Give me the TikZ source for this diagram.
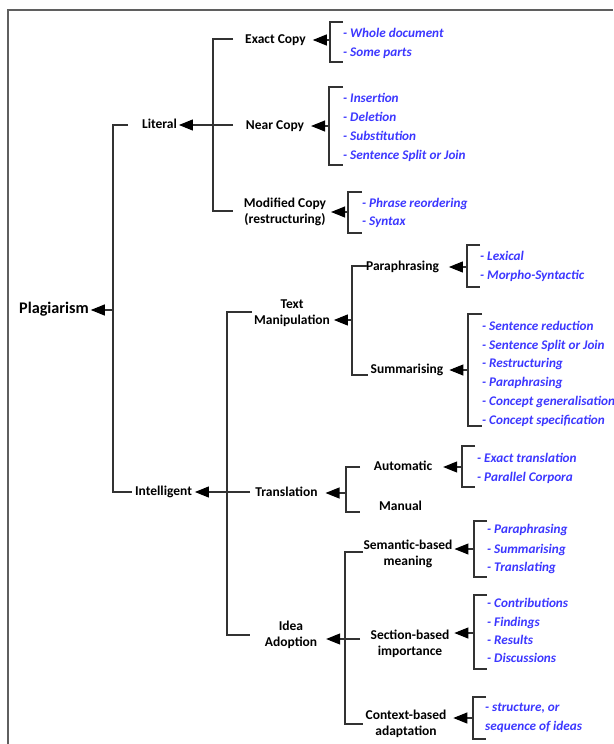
\documentclass[tikz,border=0pt]{standalone}
\usepackage{fontspec}
\setmainfont{Carlito}
\usetikzlibrary{arrows.meta}
\definecolor{itemblue}{RGB}{60,55,255}
\definecolor{linegray}{RGB}{50,50,50}
\definecolor{framegray}{RGB}{95,95,95}
\tikzset{
  lbl/.style={font=\bfseries\fontsize{13.5}{16}\selectfont, inner ysep=0pt, outer sep=0pt, text height=9.5pt, text depth=3pt},
  lbltwo/.style={font=\bfseries\fontsize{13.5}{16}\selectfont, inner ysep=0pt, outer sep=0pt, align=center},
  plg/.style={font=\bfseries\fontsize{16.2}{19}\selectfont, inner ysep=0pt, outer sep=0pt, text height=10pt, text depth=3pt},
  item/.style={font=\bfseries\itshape\fontsize{13.2}{15}\selectfont, text=itemblue, anchor=west, inner sep=0pt, text height=9pt, text depth=3pt},
  ln/.style={draw=linegray, line width=1.1pt},
  arr/.style={ln, -{Triangle[length=14pt,width=11pt,fill=black,color=black]}},
}
\begin{document}
\begin{tikzpicture}[x=1pt,y=-1pt]
\useasboundingbox (0,0) rectangle (613,744);
\draw[framegray, line width=1.6pt] (8,744) -- (8,10) -- (613,10);

% ---------- labels ----------
\node[plg, inner xsep=2pt] (plag) at (54,310) {Plagiarism};
\node[lbl, inner xsep=2pt] (lit) at (159.5,125) {Literal};
\node[lbl, inner xsep=3pt] (intel) at (163.5,492) {Intelligent};
\node[lbl, inner xsep=7pt] (ec) at (275.5,40) {Exact Copy};
\node[lbl, inner xsep=7pt] (nc) at (275,126) {Near Copy};
\node[lbltwo, inner xsep=5pt] (mc) at (285,212) {Modified Copy\\(restructuring)};
\node[lbltwo, inner xsep=4pt] (tm) at (292,313) {Text\\Manipulation};
\node[lbl, inner xsep=10pt] (para) at (402.5,267) {Paraphrasing};
\node[lbl, inner xsep=6pt] (summ) at (407,370) {Summarising};
\node[lbl, inner xsep=8pt] (trans) at (286.5,493) {Translation};
\node[lbl, inner xsep=11pt] (auto) at (403,467) {Automatic};
\node[lbl, inner xsep=2pt] (man) at (400.5,507) {Manual};
\node[lbltwo, inner xsep=9pt] (idea) at (291,635) {Idea\\Adoption};
\node[lbltwo, inner xsep=2pt] (sem) at (408,554) {Semantic-based\\meaning};
\node[lbltwo, inner xsep=5pt] (sec) at (410,643.5) {Section-based\\importance};
\node[lbltwo, inner xsep=7pt] (ctx) at (406,724) {Context-based\\adaptation};

% ---------- items ----------
\node[item] (ec1) at (343,34) {- Whole document};
\node[item] (ec2) at (343,53) {- Some parts};
\node[item] (nc1) at (343,99) {- Insertion};
\node[item] (nc2) at (343,118) {- Deletion};
\node[item] (nc3) at (343,137) {- Substitution};
\node[item] (nc4) at (343,156) {- Sentence Split or Join};
\node[item] (mc1) at (362,204) {- Phrase reordering};
\node[item] (mc2) at (362,222) {- Syntax};
\node[item] (pa1) at (480,257) {- Lexical};
\node[item] (pa2) at (480,276) {- Morpho-Syntactic};
\node[item] (su1) at (482,327) {- Sentence reduction};
\node[item] (su2) at (482,346) {- Sentence Split or Join};
\node[item] (su3) at (482,364) {- Restructuring};
\node[item] (su4) at (482,383) {- Paraphrasing};
\node[item] (su5) at (482,402) {- Concept generalisation};
\node[item] (su6) at (482,421) {- Concept specification};
\node[item] (au1) at (477,459) {- Exact translation};
\node[item] (au2) at (477,478) {- Parallel Corpora};
\node[item] (se1) at (487,530) {- Paraphrasing};
\node[item] (se2) at (487,550) {- Summarising};
\node[item] (se3) at (487,568) {- Translating};
\node[item] (sc1) at (487,604) {- Contributions};
\node[item] (sc2) at (487,623) {- Findings};
\node[item] (sc3) at (487,641) {- Results};
\node[item] (sc4) at (487,659) {- Discussions};
\node[item] (cx1) at (485,708) {- structure, or};
\node[item] (cx2) at (485,727) {sequence of ideas};

% ---------- coordinates ----------
\coordinate (plagB) at (113,310);
\coordinate (litB) at (233,125);
\coordinate (intelB) at (250,492);
\coordinate (ecB) at (330,40);
\coordinate (ncB) at (329,126);
\coordinate (mcB) at (348,212);
\coordinate (tmB) at (352,320);
\coordinate (paB) at (467,267);
\coordinate (suB) at (468,370);
\coordinate (trB) at (346,493);
\coordinate (auB) at (462,467);
\coordinate (idB) at (360,639);
\coordinate (seB) at (474,549);
\coordinate (scB) at (474,633);
\coordinate (cxB) at (473,718);

% ---------- trunks ----------
\draw[ln] (128,125) -- (113,125) -- (113,492) -- (intel.west |- 0,492);
\draw[ln] (233,39) -- (213,39) -- (213,211) -- (233,211);
\draw[ln] (252,312) -- (227,312) -- (227,635) -- (250,635);
\draw[ln] (367,266) -- (352,266) -- (352,375) -- (368,375);
\draw[ln] (360,467) -- (346,467) -- (346,512) -- (360,512);
\draw[ln] (363,552) -- (345,552) -- (345,724) -- (363,724);

% ---------- brackets ----------
\draw[ln] (343,22) -- (330,22) -- (330,62) -- (343,62);
\draw[ln] (343,87) -- (329,87) -- (329,165) -- (343,165);
\draw[ln] (362,192) -- (348,192) -- (348,233) -- (362,233);
\draw[ln] (480,245) -- (467,245) -- (467,287) -- (480,287);
\draw[ln] (482,314) -- (468,314) -- (468,426) -- (482,426);
\draw[ln] (475,446) -- (462,446) -- (462,487) -- (475,487);
\draw[ln] (487,521) -- (474,521) -- (474,577) -- (487,577);
\draw[ln] (487,595) -- (474,595) -- (474,669) -- (487,669);
\draw[ln] (486,697) -- (473,697) -- (473,739) -- (486,739);

% ---------- arrows ----------
\draw[arr] (plagB) -- (plagB -| plag.east);
\draw[arr] (litB) -- (litB -| lit.east);
\draw[arr] (intelB) -- (intelB -| intel.east);
\draw[arr] (ecB) -- (ecB -| ec.east);
\draw[arr] (ncB) -- (ncB -| nc.east);
\draw[arr] (mcB) -- (mcB -| mc.east);
\draw[arr] (tmB) -- (tmB -| tm.east);
\draw[arr] (paB) -- (paB -| para.east);
\draw[arr] (suB) -- (suB -| summ.east);
\draw[arr] (trB) -- (trB -| trans.east);
\draw[arr] (auB) -- (auB -| auto.east);
\draw[arr] (idB) -- (idB -| idea.east);
\draw[arr] (seB) -- (seB -| sem.east);
\draw[arr] (scB) -- (scB -| sec.east);
\draw[arr] (cxB) -- (cxB -| ctx.east);
\end{tikzpicture}
\end{document}
